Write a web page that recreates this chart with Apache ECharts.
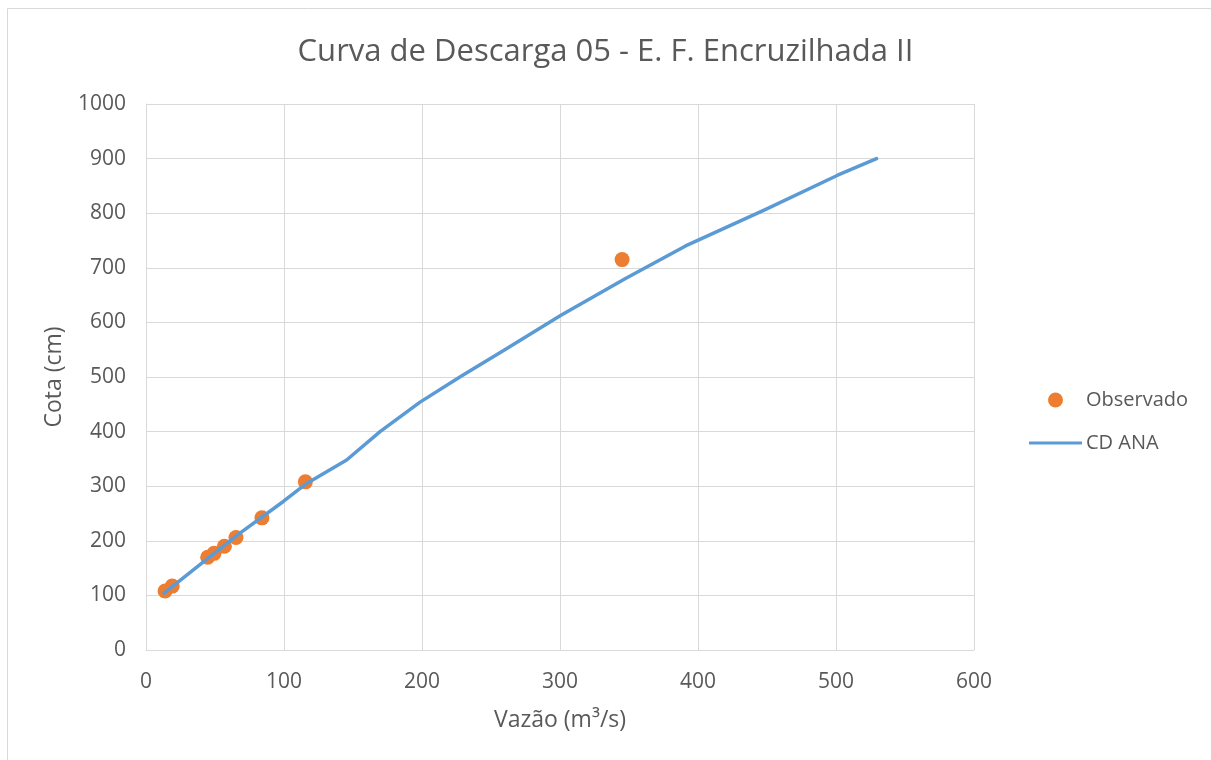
<!DOCTYPE html>
<html><head><meta charset="utf-8">
<script src="https://cdn.jsdelivr.net/npm/echarts@6/dist/echarts.min.js"></script>
<style>html,body{margin:0;padding:0;background:#fff}#c{width:1211px;height:760px}</style>
</head><body><div id="c"></div>
<script>
var obsVazao = [13.8, 19.0, 44.7, 49.3, 56.8, 65.2, 84.0, 115.5, 345.0];
var obsCota  = [108, 117, 170, 177, 190, 206, 242, 308, 715];
var cdVazao = [13.1, 40, 68.1, 99.5, 116.4, 145.4, 169.6, 198.6, 228, 260, 300.7, 347.8, 391, 448.3, 501.6, 529.4];
var cdCota  = [104, 158, 214, 272, 305, 348, 400, 454, 501, 550, 613, 681, 740, 806, 870, 900];
var xTicks = [0, 100, 200, 300, 400, 500, 600];
var yTicks = [0, 100, 200, 300, 400, 500, 600, 700, 800, 900, 1000];

var FONT = '"Open Sans", "Noto Sans", sans-serif';
var TXT = '#595959';
var chart = echarts.init(document.getElementById('c'), null, {renderer: 'canvas'});
chart.setOption({
  animation: false,
  backgroundColor: '#fff',
  textStyle: {fontFamily: FONT},
  graphic: [{type: 'rect', shape: {x: 7.5, y: 8.5, width: 1210, height: 760}, style: {fill: 'none', stroke: '#d9d9d9', lineWidth: 1}, silent: true}],
  title: {text: 'Curva de Descarga 05 - E. F. Encruzilhada II', left: 'center', top: 32,
    textStyle: {fontFamily: FONT, fontSize: 31, fontWeight: 'normal', color: TXT}},
  grid: {left: 146, right: 237, top: 104, bottom: 110},
  legend: [
    {data: [{name: 'Observado', icon: 'circle'}], left: 1043, top: 385, itemWidth: 15, itemHeight: 15, itemGap: 0,
     textStyle: {fontFamily: FONT, fontSize: 20, color: TXT, padding: [0, 0, 0, 18]}},
    {data: [{name: 'CD ANA', icon: 'rect'}], left: 1024, top: 428, itemWidth: 53, itemHeight: 3,
     textStyle: {fontFamily: FONT, fontSize: 20, color: TXT, padding: [0, 0, 0, -1]}}
  ],
  xAxis: {type: 'value', min: xTicks[0], max: xTicks[xTicks.length - 1], interval: 100,
    name: 'Vazão (m³/s)', nameLocation: 'middle', nameGap: 59,
    nameTextStyle: {fontFamily: FONT, fontSize: 23, color: TXT},
    axisLine: {show: true, lineStyle: {color: '#d9d9d9', width: 1}}, axisTick: {show: false},
    axisLabel: {fontFamily: FONT, fontSize: 21, color: TXT, margin: 22, formatter: function (v) { return String(v); }},
    splitLine: {show: true, lineStyle: {color: '#d9d9d9', width: 1}}},
  yAxis: {type: 'value', min: yTicks[0], max: yTicks[yTicks.length - 1], interval: 100,
    name: 'Cota (cm)', nameLocation: 'middle', nameGap: 80, nameRotate: 90,
    nameTextStyle: {fontFamily: FONT, fontSize: 23, color: TXT},
    axisLine: {show: true, lineStyle: {color: '#d9d9d9', width: 1}}, axisTick: {show: false},
    axisLabel: {fontFamily: FONT, fontSize: 21, color: TXT, margin: 20, formatter: function (v) { return String(v); }},
    splitLine: {show: true, lineStyle: {color: '#d9d9d9', width: 1}}},
  series: [
    {name: 'Observado', type: 'scatter', symbol: 'circle', symbolSize: 15,
     itemStyle: {color: '#ED7D31', opacity: 1}, z: 3,
     data: obsVazao.map(function (v, i) { return [v, obsCota[i]]; })},
    {name: 'CD ANA', type: 'line', showSymbol: false, smooth: false,
     lineStyle: {color: '#5B9BD5', width: 3.5, cap: 'round', join: 'round'}, itemStyle: {color: '#5B9BD5'}, z: 4,
     data: cdVazao.map(function (v, i) { return [v, cdCota[i]]; })}
  ]
});
</script></body></html>
